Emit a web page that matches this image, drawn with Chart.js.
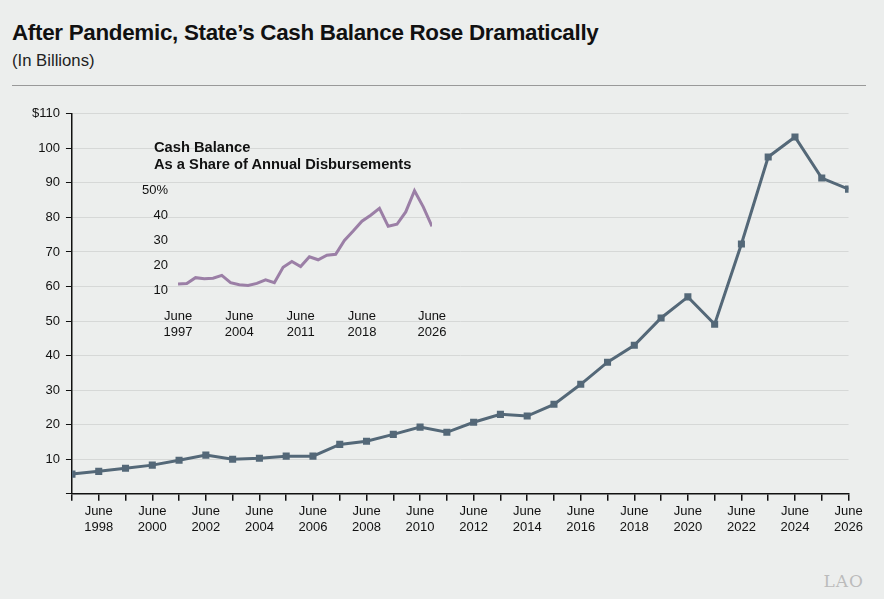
<!DOCTYPE html>
<html><head><meta charset="utf-8">
<script src="https://cdn.jsdelivr.net/npm/chart.js@4"></script>
<style>
body{margin:0;background:#eceeed;width:884px;height:599px;position:relative;overflow:hidden;font-family:"Liberation Sans",Arial,sans-serif;}
#t{position:absolute;left:12px;top:20px;font-size:22.4px;font-weight:bold;color:#111;letter-spacing:-0.3px}
#s{position:absolute;left:12px;top:51px;font-size:16.7px;color:#222}
#r{position:absolute;left:12px;top:85px;width:854px;height:1px;background:#999}
#m{position:absolute;left:0;top:100px;width:866px;height:438px}
#i{position:absolute;left:140px;top:140px;width:310px;height:200px}
#it{position:absolute;left:154px;top:139px;font-size:14.7px;font-weight:bold;color:#111;line-height:17px}
#l{position:absolute;right:20px;bottom:8px;font-family:"DejaVu Serif",serif;font-size:17px;color:#bbb;letter-spacing:1px}
</style></head><body>
<div id="t">After Pandemic, State’s Cash Balance Rose Dramatically</div>
<div id="s">(In Billions)</div>
<div id="r"></div>
<div id="m"><canvas id="c"></canvas></div>
<div id="i"><canvas id="c2"></canvas></div>
<div id="it">Cash Balance<br>As a Share of Annual Disbursements</div>
<div id="l">LAO</div>
<script>
const years=[1997,1998,1999,2000,2001,2002,2003,2004,2005,2006,2007,2008,2009,2010,2011,2012,2013,2014,2015,2016,2017,2018,2019,2020,2021,2022,2023,2024,2025,2026];
const cashBalance=[5.7,6.5,7.4,8.3,9.7,11.2,10.0,10.3,10.9,10.9,14.3,15.2,17.2,19.3,17.8,20.7,23.0,22.5,25.9,31.7,38.1,43.0,50.9,57.0,49.1,72.3,97.5,103.3,91.4,88.2];
const sharePct=[12.7,12.9,15.2,14.8,15.0,16.1,13.2,12.4,12.1,12.9,14.3,13.2,19.3,21.6,19.6,23.5,22.3,24.1,24.5,30.0,33.7,37.6,40.0,42.7,35.6,36.4,41.3,49.7,43.3,35.6];
const insetTickYears=[1997,2004,2011,2018,2026];
const yTicks=[10,20,30,40,50,60,70,80,90,100,110];
const insetYTicks=[10,20,30,40,50];

const F="'Liberation Sans',Arial,sans-serif";
Chart.defaults.font.family=F;
Chart.defaults.color="#111";
new Chart(document.getElementById('c'),{type:'line',
data:{datasets:[{data:years.map((y,k)=>({x:y,y:cashBalance[k]})),borderColor:'#546878',backgroundColor:'#546878',borderWidth:3,pointStyle:'rect',pointRadius:5,pointBorderWidth:0,tension:0}]},
options:{animation:false,responsive:true,maintainAspectRatio:false,plugins:{legend:{display:false},tooltip:{enabled:false}},
layout:{padding:{left:26,right:0,top:9}},
scales:{x:{type:'linear',min:1997,max:2026,afterBuildTicks:a=>{a.ticks=years.map(v=>({value:v}));},
 ticks:{autoSkip:false,maxRotation:0,font:{size:13},color:'#111',padding:3,callback:v=>v%2===0?['June',String(v)]:''},
 grid:{drawOnChartArea:false,tickLength:7,color:'#111',lineWidth:1.5},border:{color:'#111',width:1.5}},
 y:{min:0,max:110,afterBuildTicks:a=>{a.ticks=[0].concat(yTicks).map(v=>({value:v}));},
 ticks:{font:{size:13},color:'#111',padding:6,callback:v=>v===0?'':(v===110?'$110':String(v))},
 grid:{color:c=>c.tick&&c.tick.value===0?'rgba(0,0,0,0)':'#d6d8d7',tickColor:'#111',tickLength:6,lineWidth:1},border:{color:'#111',width:1.5}}}}});

new Chart(document.getElementById('c2'),{type:'line',
data:{datasets:[{data:years.map((y,k)=>({x:y,y:sharePct[k]})),borderColor:'#9b7fa6',borderWidth:3,pointRadius:0,tension:0}]},
options:{animation:false,responsive:true,maintainAspectRatio:false,plugins:{legend:{display:false},tooltip:{enabled:false}},
layout:{padding:{top:45,right:18}},
scales:{x:{type:'linear',min:1997,max:2026,afterBuildTicks:a=>{a.ticks=insetTickYears.map(v=>({value:v}));},
 ticks:{autoSkip:false,maxRotation:0,font:{size:13},color:'#111',padding:0,callback:v=>['June',String(v)]},
 grid:{display:false},border:{display:false}},
 y:{min:6,max:52,afterBuildTicks:a=>{a.ticks=insetYTicks.map(v=>({value:v}));},
 ticks:{font:{size:13},color:'#111',padding:2,callback:v=>v===50?'50%':String(v)},
 grid:{display:false},border:{display:false}}}}});
</script>
</body></html>
